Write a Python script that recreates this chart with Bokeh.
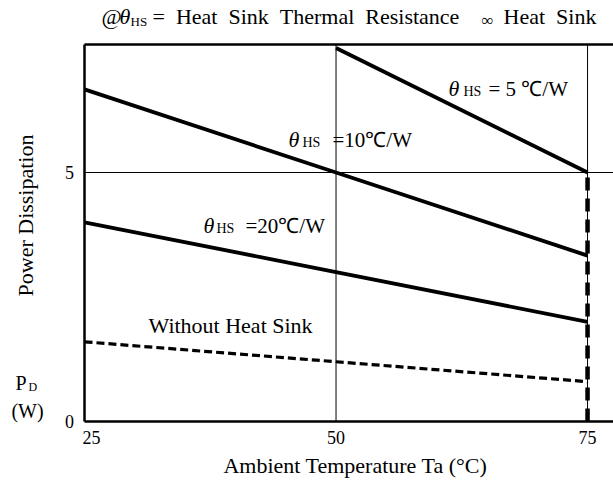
from math import pi
from bokeh.plotting import figure
from bokeh.models import Range1d, Label
from bokeh.embed import file_html
from bokeh.resources import INLINE

# ---- data ----
ta_all = [25, 50, 75]
pd_hs10 = [6.67, 5.0, 3.33]
pd_hs20 = [4.0, 3.0, 2.0]
pd_none = [1.6, 1.2, 0.8]
ta_hs5 = [50, 75]
pd_hs5 = [7.5, 5.0]
ta_max = 75
x_ticks = [25, 50, 75]
y_ticks = [0, 5]

# ---- layout / style ----
W, H = 613, 480
FONT = "Liberation Serif"
NB = "\u00a0"
Y_TOP = 7.57          # top edge of the plotting box
X_END = 77.58         # right edge of the visible box
p = figure(width=W, height=H, output_backend="svg", toolbar_location=None,
           x_range=Range1d(16.65, X_END), y_range=Range1d(-1.185, 8.454),
           x_axis_type=None, y_axis_type=None, min_border=0)
p.background_fill_color = "white"
p.border_fill_color = "white"
p.outline_line_color = None

x0, y0 = x_ticks[0], y_ticks[0]
# grid lines
p.segment(x0=x_ticks[1:], y0=[y0] * (len(x_ticks) - 1), x1=x_ticks[1:],
          y1=[Y_TOP] * (len(x_ticks) - 1), line_color="black", line_width=1)
p.segment(x0=[x0] * (len(y_ticks) - 1), y0=y_ticks[1:], x1=[X_END] * (len(y_ticks) - 1),
          y1=y_ticks[1:], line_color="black", line_width=1)
# box (left, bottom, top)
p.segment(x0=[x0, x0, x0], y0=[y0, y0, Y_TOP], x1=[x0, X_END, X_END],
          y1=[Y_TOP, y0, Y_TOP], line_color="black", line_width=2.5)

# curves
p.line(ta_hs5, pd_hs5, line_color="black", line_width=3.8)
p.line(ta_all, pd_hs10, line_color="black", line_width=3.8)
p.line(ta_all, pd_hs20, line_color="black", line_width=3.8)
p.line(ta_all, pd_none, line_color="black", line_width=3.2, line_dash="8 4")
p.line([ta_max, ta_max], [y0, pd_hs5[-1]], line_color="black", line_width=4.5,
       line_dash="13 8")

# tick labels (through the data scales)
for t in x_ticks:
    p.add_layout(Label(x=t, y=y0, text=str(t), x_offset=7 if t == x0 else 0,
                       y_offset=-16, text_font=FONT, text_font_size="18px",
                       text_align="center", text_baseline="middle",
                       text_color="black"))
for t in y_ticks:
    p.add_layout(Label(x=x0, y=t, text=str(t), x_offset=-15, y_offset=0,
                       text_font=FONT, text_font_size="18px",
                       text_align="center", text_baseline="middle",
                       text_color="black"))


def lab(text, px, py, size=21, style="normal", align="left", angle=0.0):
    # px, py: pixel position from the top-left corner of the canvas
    p.add_layout(Label(x=px, y=H - py, x_units="screen", y_units="screen",
                       text=text, text_font=FONT, text_font_size=f"{size}px",
                       text_font_style=style, text_color="black",
                       text_align=align, text_baseline="middle", angle=angle))


# title
lab("@", 101, 16, size=22)
lab("θ", 119, 16, size=22, style="italic")
lab("HS", 130, 21, size=13)
lab(f"= {NB}Heat {NB}Sink {NB}Thermal {NB}Resistance", 152, 16, size=22)
lab("∞", 481, 20, size=17)
lab(f"Heat {NB}Sink", 503, 16, size=22)

# axis titles
lab("Ambient Temperature Ta (°C)", 355, 465, size=22, align="center")
lab("Power Dissipation", 25, 215, size=22, align="center", angle=pi / 2)
lab("P", 15, 382, size=20)
lab("D", 28, 386, size=12)
lab("(W)", 27, 410, size=20, align="center")

# curve labels
lab("θ", 448, 88, size=22, style="italic")
lab("HS", 463, 91, size=14)
lab("= 5 ℃/W", 488, 88, size=21)

lab("θ", 288, 139, size=22, style="italic")
lab("HS", 302, 142, size=14)
lab("=10℃/W", 332, 139, size=21)

lab("θ", 203, 225, size=22, style="italic")
lab("HS", 216, 228, size=14)
lab("=20℃/W", 245, 225, size=21)

lab("Without Heat Sink", 148, 325, size=22)

open("out.html", "w").write(file_html(p, INLINE))
